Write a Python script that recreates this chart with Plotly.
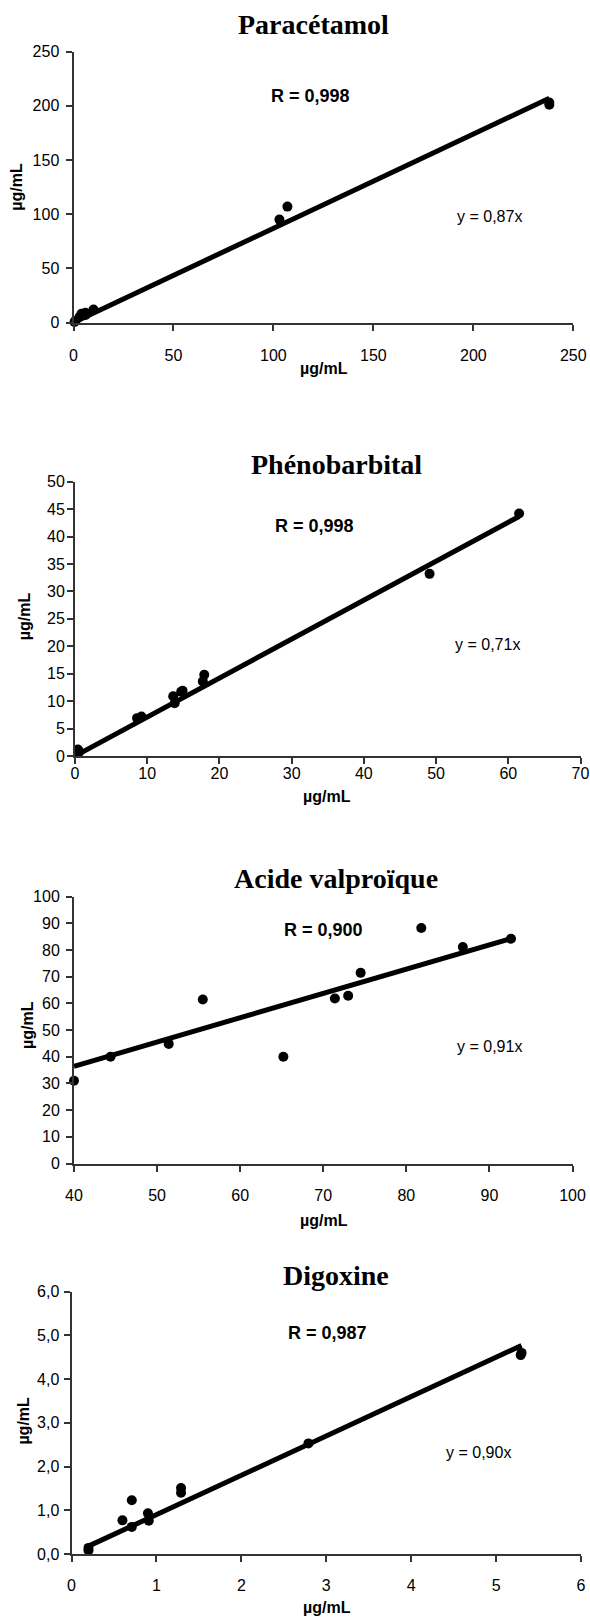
import plotly.graph_objects as go

W, H = 590, 1620

# ---------------- data ----------------
titles = ["Paracétamol", "Phénobarbital", "Acide valproïque", "Digoxine"]
r_labels = ["R = 0,998", "R = 0,998", "R = 0,900", "R = 0,987"]
eq_labels = ["y = 0,87x", "y = 0,71x", "y = 0,91x", "y = 0,90x"]
axis_label = "µg/mL"
slopes = [0.87, 0.71, 0.91, 0.90]
fit_x = [[0, 238], [0, 61.5], [40, 92.8], [0.2, 5.3]]

para_x = [0.5, 1, 3, 4, 6, 6, 10, 103, 107, 238, 238]
para_y = [0.5, 1.5, 5, 8, 9, 7, 12, 95, 107, 201, 203]

pheno_x = [0.4, 0.6, 8.6, 9.2, 13.6, 13.8, 14.7, 14.9, 17.7, 17.9, 49.1, 61.5]
pheno_y = [1.2, 0.8, 6.9, 7.2, 10.9, 9.6, 11.7, 11.9, 13.6, 14.8, 33.2, 44.2]

valp_x = [40, 44.4, 51.4, 55.5, 65.2, 71.4, 73.0, 74.5, 81.8, 86.8, 92.6]
valp_y = [31.0, 40.0, 44.8, 61.4, 40.0, 61.8, 62.8, 71.4, 88.2, 81.1, 84.2]

digo_x = [0.2, 0.2, 0.6, 0.71, 0.71, 0.9, 0.91, 1.29, 1.29, 2.79, 5.29, 5.3]
digo_y = [0.08, 0.14, 0.77, 1.23, 0.62, 0.93, 0.76, 1.51, 1.40, 2.53, 4.55, 4.6]

xs_data = [para_x, pheno_x, valp_x, digo_x]
ys_data = [para_y, pheno_y, valp_y, digo_y]

x_ticks = [[0, 50, 100, 150, 200, 250],
           [0, 10, 20, 30, 40, 50, 60, 70],
           [40, 50, 60, 70, 80, 90, 100],
           [0, 1, 2, 3, 4, 5, 6]]
y_ticks = [[0, 50, 100, 150, 200, 250],
           [0, 5, 10, 15, 20, 25, 30, 35, 40, 45, 50],
           [0, 10, 20, 30, 40, 50, 60, 70, 80, 90, 100],
           [0, 1, 2, 3, 4, 5, 6]]
y_ticktext = [None, None, None,
              ["0,0", "1,0", "2,0", "3,0", "4,0", "5,0", "6,0"]]

# ---------------- layout (pixel geometry) ----------------
# plot area: left, right, top, bottom in px
areas = [(73.5, 573.3, 51.7, 322.5),
         (75.0, 580.5, 481.7, 756.0),
         (74.0, 572.5, 896.5, 1163.5),
         (71.5, 581.0, 1291.7, 1554.0)]
title_pos = [(313.5, 25), (336.8, 465), (336, 878.3), (336, 1275)]
r_pos = [(310.5, 95.7), (314, 526), (323.7, 930), (327.4, 1332.7)]
eq_pos = [(489, 216.7), (488, 644.3), (489, 1046), (478, 1452.7)]
xtitle_pos = [(323.7, 368.3), (327, 796.7), (323.7, 1220), (327, 1607.3)]
ytitle_pos = [(17, 186.7), (24.5, 616.7), (27, 1025), (22.6, 1421)]
xlab_standoff = [11, -4, 10, 10]
ylab_standoff = [3, -1, 3, 1]

def px(x):
    return x / W

def py(y):
    return 1 - y / H

SANS = "Liberation Sans, Arial, sans-serif"
SERIF = "Liberation Serif, Times New Roman, serif"

fig = go.Figure()
annotations = []
layout = dict(width=W, height=H, margin=dict(l=0, r=0, t=0, b=0, autoexpand=False),
              paper_bgcolor="white", plot_bgcolor="white", showlegend=False)

for i in range(4):
    n = "" if i == 0 else str(i + 1)
    xa, ya = "x" + n, "y" + n
    L, R, T, B = areas[i]
    fx = fit_x[i]
    fig.add_trace(go.Scatter(x=fx, y=[slopes[i] * v for v in fx], mode="lines",
                             line=dict(color="black", width=5),
                             cliponaxis=False,
                             xaxis=xa, yaxis=ya, hoverinfo="skip"))
    fig.add_trace(go.Scatter(x=xs_data[i], y=ys_data[i], mode="markers",
                             marker=dict(color="black", size=10),
                             cliponaxis=False, xaxis=xa, yaxis=ya))
    common = dict(showline=True, linecolor="#333", linewidth=2, ticks="outside",
                  ticklen=6, tickwidth=1.5, tickcolor="#333", showgrid=False,
                  zeroline=False, automargin=False,
                  tickfont=dict(family=SANS, size=16, color="black"))
    layout["xaxis" + n] = dict(common, domain=[px(L), px(R)], anchor=ya,
                               range=[x_ticks[i][0], x_ticks[i][-1]],
                               tickmode="array", tickvals=x_ticks[i],
                               ticklabelstandoff=xlab_standoff[i])
    yd = dict(common, domain=[py(B), py(T)], anchor=xa,
              range=[y_ticks[i][0], y_ticks[i][-1]],
              tickmode="array", tickvals=y_ticks[i],
              ticklabelstandoff=ylab_standoff[i])
    if y_ticktext[i] is not None:
        yd["ticktext"] = y_ticktext[i]
    layout["yaxis" + n] = yd

    annotations.append(dict(text="<b>" + titles[i] + "</b>", x=px(title_pos[i][0]),
                            y=py(title_pos[i][1]), xref="paper", yref="paper",
                            showarrow=False, xanchor="center", yanchor="middle",
                            font=dict(family=SERIF, size=28, color="black")))
    annotations.append(dict(text="<b>" + r_labels[i] + "</b>", x=px(r_pos[i][0]),
                            y=py(r_pos[i][1]), xref="paper", yref="paper",
                            showarrow=False, xanchor="center", yanchor="middle",
                            font=dict(family=SANS, size=18, color="black")))
    annotations.append(dict(text=eq_labels[i], x=px(eq_pos[i][0]),
                            y=py(eq_pos[i][1]), xref="paper", yref="paper",
                            showarrow=False, xanchor="center", yanchor="middle",
                            font=dict(family=SANS, size=16, color="black")))
    annotations.append(dict(text="<b>" + axis_label + "</b>", x=px(xtitle_pos[i][0]),
                            y=py(xtitle_pos[i][1]), xref="paper", yref="paper",
                            showarrow=False, xanchor="center", yanchor="middle",
                            font=dict(family=SANS, size=16, color="black")))
    annotations.append(dict(text="<b>" + axis_label + "</b>", x=px(ytitle_pos[i][0]),
                            y=py(ytitle_pos[i][1]), xref="paper", yref="paper",
                            showarrow=False, xanchor="center", yanchor="middle",
                            textangle=-90,
                            font=dict(family=SANS, size=16, color="black")))

layout["annotations"] = annotations
fig.update_layout(**layout)
fig.write_html("out.html", config={"displayModeBar": False},
               post_script="document.body.style.margin='0px';document.body.style.overflow='hidden';")
